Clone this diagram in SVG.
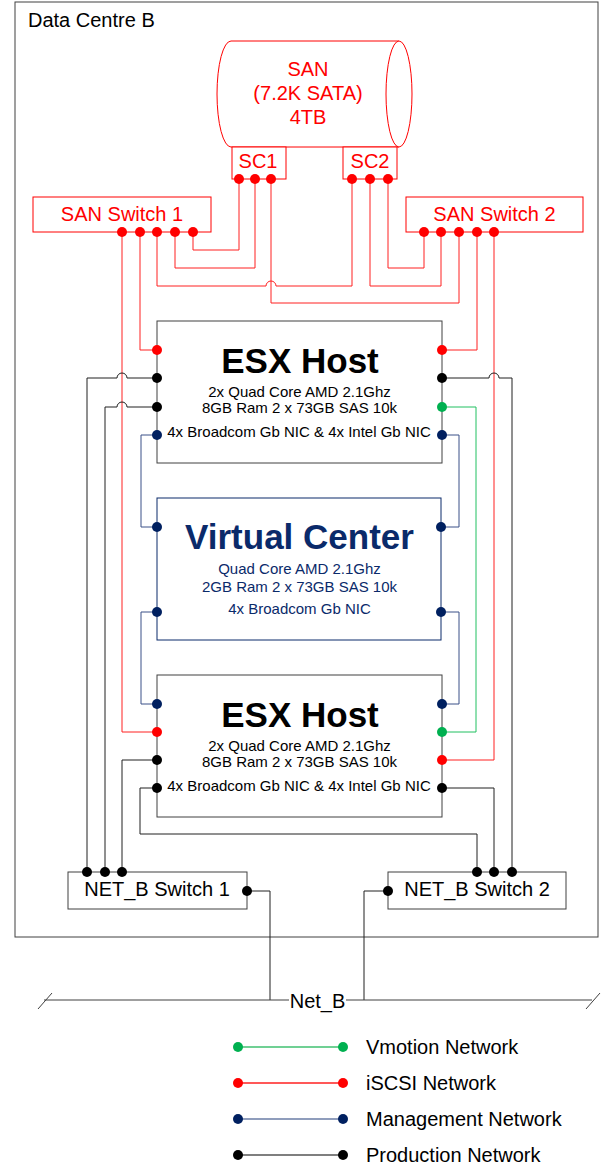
<svg xmlns="http://www.w3.org/2000/svg" width="608" height="1169" viewBox="0 0 608 1169">
  <style>
    text { font-family: "Liberation Sans", Arial, sans-serif; }
    .t-red { fill: #ff0000; font-size: 20px; text-anchor: middle; }
    .t-blk { fill: #000000; font-size: 20px; }
    .t-mid { text-anchor: middle; }
    .title { font-size: 35px; font-weight: bold; text-anchor: middle; }
    .spec { font-size: 15px; text-anchor: middle; }
    .box-red { fill: #ffffff; stroke: #ff0000; stroke-width: 1; }
    .box-grey { fill: #ffffff; stroke: #404040; stroke-width: 1; }
    .box-navy { fill: #ffffff; stroke: #0a2a6a; stroke-width: 1; }
    circle { r: 5px; }
    .dot-red { fill: #ff0000; }
    .dot-green { fill: #00b050; }
    .dot-navy { fill: #002060; }
    .dot-blk { fill: #000000; }
    .w { fill: none; stroke-width: 1; }
    .w-red { stroke: #ff2020; }
    .w-green { stroke: #20c060; }
    .w-navy { stroke: #3a5088; }
    .w-blk { stroke: #202020; }
  </style>

  <!-- outer site boundary -->
  <g id="data-centre-b">
    <rect x="15" y="2" width="583" height="935" fill="#ffffff" stroke="#404040" stroke-width="1"/>
    <text class="t-blk" x="28" y="27">Data Centre B</text>
  </g>

  <!-- connectors -->
  <g id="connectors">
    <!-- iSCSI fabric between SAN controllers and switches -->
    <path class="w w-red" d="M193,232 V250 H239 V179"/>
    <path class="w w-red" d="M175,232 V268 H255 V179"/>
    <path class="w w-red" d="M157,232 V286 H266 A5,5 0 0 1 276,286 H352 V179"/>
    <path class="w w-red" d="M271,179 V303 H459 V232"/>
    <path class="w w-red" d="M370,179 V286 H441 V232"/>
    <path class="w w-red" d="M388,179 V268 H424 V232"/>
    <!-- iSCSI to hosts -->
    <path class="w w-red" d="M140,232 V350 H157"/>
    <path class="w w-red" d="M122,232 V732 H157"/>
    <path class="w w-red" d="M477,232 V350 H442"/>
    <path class="w w-red" d="M494,232 V760 H442"/>
    <!-- production network -->
    <path class="w w-blk" d="M157,378 H127 A5,5 0 0 0 117,378 H87 V872"/>
    <path class="w w-blk" d="M157,407 H127 A5,5 0 0 0 117,407 H105 V872"/>
    <path class="w w-blk" d="M157,760 H122 V872"/>
    <path class="w w-blk" d="M157,788 H140 V834 H477 V872"/>
    <path class="w w-blk" d="M442,378 H489 A5,5 0 0 1 499,378 H512 V872"/>
    <path class="w w-blk" d="M442,788 H494 V872"/>
    <path class="w w-blk" d="M247,891 H270 V1000"/>
    <path class="w w-blk" d="M388,891 H364 V1000"/>
    <!-- vmotion -->
    <path class="w w-green" d="M442,407 H476 V732 H442"/>
    <!-- management -->
    <path class="w w-navy" d="M157,435 H141 V527 H157"/>
    <path class="w w-navy" d="M442,435 H459 V527 H441"/>
    <path class="w w-navy" d="M157,612 H141 V704 H157"/>
    <path class="w w-navy" d="M441,612 H459 V704 H442"/>
  </g>

  <!-- storage array -->
  <g id="san">
    <path d="M231,41 H399 M231,147 H399 M231,41 A14,53 0 0 0 231,147" fill="#ffffff" stroke="#ff0000" stroke-width="1"/>
    <ellipse cx="399" cy="94" rx="13" ry="53" fill="#ffffff" stroke="#ff0000" stroke-width="1"/>
    <text class="t-red" x="308" y="76">SAN</text>
    <text class="t-red" x="308" y="100">(7.2K SATA)</text>
    <text class="t-red" x="308" y="124">4TB</text>
  </g>

  <g id="sc1">
    <rect class="box-red" x="232" y="147" width="54" height="32"/>
    <text class="t-red" x="258" y="168">SC1</text>
    <circle class="dot-red" cx="239" cy="179" r="5"/>
    <circle class="dot-red" cx="255" cy="179" r="5"/>
    <circle class="dot-red" cx="271" cy="179" r="5"/>
  </g>

  <g id="sc2">
    <rect class="box-red" x="343" y="147" width="54" height="32"/>
    <text class="t-red" x="370" y="168">SC2</text>
    <circle class="dot-red" cx="352" cy="179" r="5"/>
    <circle class="dot-red" cx="370" cy="179" r="5"/>
    <circle class="dot-red" cx="388" cy="179" r="5"/>
  </g>

  <g id="san-switch-1">
    <rect class="box-red" x="33" y="197" width="178" height="35"/>
    <text class="t-red" x="122" y="221">SAN Switch 1</text>
    <circle class="dot-red" cx="122" cy="232" r="5"/>
    <circle class="dot-red" cx="140" cy="232" r="5"/>
    <circle class="dot-red" cx="157" cy="232" r="5"/>
    <circle class="dot-red" cx="175" cy="232" r="5"/>
    <circle class="dot-red" cx="193" cy="232" r="5"/>
  </g>

  <g id="san-switch-2">
    <rect class="box-red" x="406" y="197" width="177" height="35"/>
    <text class="t-red" x="494.5" y="221">SAN Switch 2</text>
    <circle class="dot-red" cx="424" cy="232" r="5"/>
    <circle class="dot-red" cx="441" cy="232" r="5"/>
    <circle class="dot-red" cx="459" cy="232" r="5"/>
    <circle class="dot-red" cx="477" cy="232" r="5"/>
    <circle class="dot-red" cx="494" cy="232" r="5"/>
  </g>

  <g id="esx-host-1">
    <rect class="box-grey" x="157" y="321" width="285" height="142"/>
    <text class="title" x="300" y="373" fill="#000000">ESX Host</text>
    <text class="spec" x="299.5" y="397" fill="#000000">2x Quad Core AMD 2.1Ghz</text>
    <text class="spec" x="299.5" y="412.5" fill="#000000">8GB Ram 2 x 73GB SAS 10k</text>
    <text class="spec" x="299" y="437" fill="#000000">4x Broadcom Gb NIC &amp; 4x Intel Gb NIC</text>
    <circle class="dot-red" cx="157" cy="350" r="5"/>
    <circle class="dot-blk" cx="157" cy="378" r="5"/>
    <circle class="dot-blk" cx="157" cy="407" r="5"/>
    <circle class="dot-navy" cx="157" cy="435" r="5"/>
    <circle class="dot-red" cx="442" cy="350" r="5"/>
    <circle class="dot-blk" cx="442" cy="378" r="5"/>
    <circle class="dot-green" cx="442" cy="407" r="5"/>
    <circle class="dot-navy" cx="442" cy="435" r="5"/>
  </g>

  <g id="virtual-center">
    <rect class="box-navy" x="157" y="498" width="284" height="142"/>
    <text class="title" x="299.5" y="549" fill="#0a2a6a">Virtual Center</text>
    <text class="spec" x="299.5" y="573.5" fill="#0a2a6a">Quad Core AMD 2.1Ghz</text>
    <text class="spec" x="299.5" y="592" fill="#0a2a6a">2GB Ram 2 x 73GB SAS 10k</text>
    <text class="spec" x="299.5" y="613.5" fill="#0a2a6a">4x Broadcom Gb NIC</text>
    <circle class="dot-navy" cx="157" cy="527" r="5"/>
    <circle class="dot-navy" cx="157" cy="612" r="5"/>
    <circle class="dot-navy" cx="441" cy="527" r="5"/>
    <circle class="dot-navy" cx="441" cy="612" r="5"/>
  </g>

  <g id="esx-host-2">
    <rect class="box-grey" x="157" y="675" width="285" height="142"/>
    <text class="title" x="300" y="727" fill="#000000">ESX Host</text>
    <text class="spec" x="299.5" y="751" fill="#000000">2x Quad Core AMD 2.1Ghz</text>
    <text class="spec" x="299.5" y="766.5" fill="#000000">8GB Ram 2 x 73GB SAS 10k</text>
    <text class="spec" x="299" y="791" fill="#000000">4x Broadcom Gb NIC &amp; 4x Intel Gb NIC</text>
    <circle class="dot-navy" cx="157" cy="704" r="5"/>
    <circle class="dot-red" cx="157" cy="732" r="5"/>
    <circle class="dot-blk" cx="157" cy="760" r="5"/>
    <circle class="dot-blk" cx="157" cy="788" r="5"/>
    <circle class="dot-navy" cx="442" cy="704" r="5"/>
    <circle class="dot-green" cx="442" cy="732" r="5"/>
    <circle class="dot-red" cx="442" cy="760" r="5"/>
    <circle class="dot-blk" cx="442" cy="788" r="5"/>
  </g>

  <g id="netb-switch-1">
    <rect class="box-grey" x="68" y="872" width="179" height="37"/>
    <text class="t-blk t-mid" x="157" y="896">NET_B Switch 1</text>
    <circle class="dot-blk" cx="87" cy="872" r="5"/>
    <circle class="dot-blk" cx="105" cy="872" r="5"/>
    <circle class="dot-blk" cx="122" cy="872" r="5"/>
    <circle class="dot-blk" cx="247" cy="891" r="5"/>
  </g>

  <g id="netb-switch-2">
    <rect class="box-grey" x="388" y="872" width="178" height="37"/>
    <text class="t-blk t-mid" x="477" y="896">NET_B Switch 2</text>
    <circle class="dot-blk" cx="477" cy="872" r="5"/>
    <circle class="dot-blk" cx="494" cy="872" r="5"/>
    <circle class="dot-blk" cx="512" cy="872" r="5"/>
    <circle class="dot-blk" cx="388" cy="891" r="5"/>
  </g>

  <!-- external network segment -->
  <g id="net-b">
    <path d="M44,1000 H592 M38,1009 L52,993 M586,1009 L600,993" fill="none" stroke="#404040" stroke-width="1"/>
    <rect x="289" y="986" width="57" height="26" fill="#ffffff"/>
    <text class="t-blk t-mid" x="317.5" y="1008">Net_B</text>
  </g>

  <!-- key -->
  <g id="legend">
    <line x1="238" y1="1047" x2="343" y2="1047" stroke="#40c070" stroke-width="1.5"/>
    <circle class="dot-green" cx="238" cy="1047" r="5"/>
    <circle class="dot-green" cx="343" cy="1047" r="5"/>
    <text class="t-blk" x="366" y="1054">Vmotion Network</text>

    <line x1="238" y1="1083" x2="343" y2="1083" stroke="#ff2020" stroke-width="1.5"/>
    <circle class="dot-red" cx="238" cy="1083" r="5"/>
    <circle class="dot-red" cx="343" cy="1083" r="5"/>
    <text class="t-blk" x="366" y="1090">iSCSI Network</text>

    <line x1="238" y1="1119" x2="343" y2="1119" stroke="#6a7ca6" stroke-width="1.5"/>
    <circle class="dot-navy" cx="238" cy="1119" r="5"/>
    <circle class="dot-navy" cx="343" cy="1119" r="5"/>
    <text class="t-blk" x="366" y="1126">Management Network</text>

    <line x1="238" y1="1155" x2="343" y2="1155" stroke="#000000" stroke-width="1.2"/>
    <circle class="dot-blk" cx="238" cy="1155" r="4.5"/>
    <circle class="dot-blk" cx="343" cy="1155" r="4.5"/>
    <text class="t-blk" x="366" y="1162">Production Network</text>
  </g>
</svg>
